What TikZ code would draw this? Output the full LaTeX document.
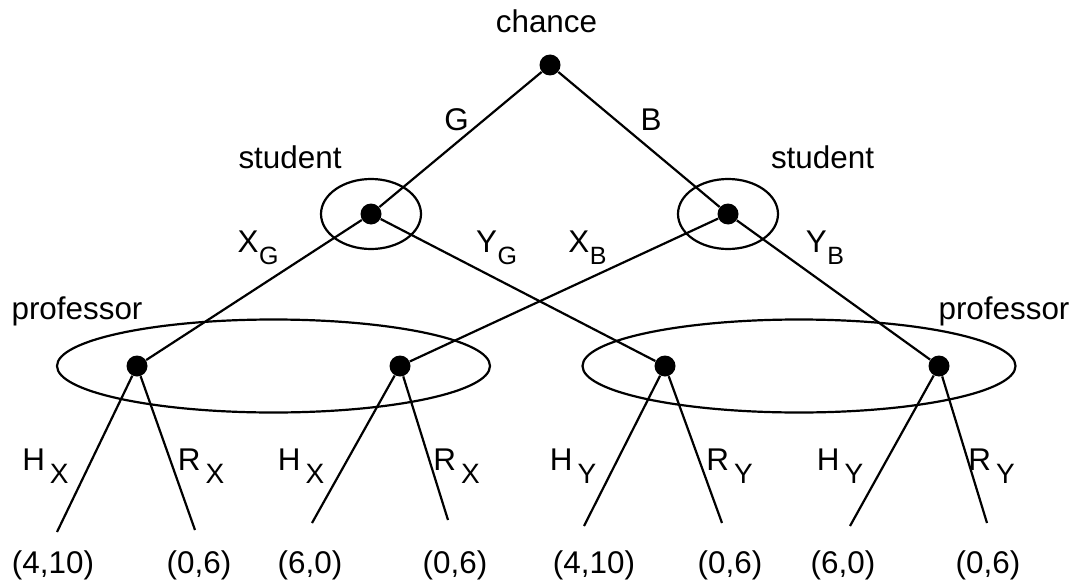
\documentclass[tikz,border=0pt]{standalone}
\usepackage{fontspec}
\setmainfont{Liberation Sans}
\usetikzlibrary{shapes.geometric}
\tikzset{
  every node/.style={font=\fontsize{15.7}{18}\selectfont, inner sep=0pt},
  dot/.style={circle, fill=black, minimum size=10.5pt, inner sep=0pt},
  info/.style={ellipse, draw, line width=1.1pt, inner sep=0pt},
  lbl/.style={anchor=base},
  edge/.style={line width=1.1pt},
}
\newcommand{\xsub}[2]{#1\kern0.3pt\raisebox{-6pt}{\fontsize{12.5}{12.5}\selectfont #2}}
\newcommand{\hsub}[2]{#1\kern2.5pt\raisebox{-6.5pt}{\fontsize{14}{14}\selectfont #2}}

\begin{document}
\begin{tikzpicture}[x=0.5pt, y=-0.5pt]
\useasboundingbox (0,0) rectangle (1080,583);

% decision nodes
\node[dot] (root) at (550,65) {};
\node[dot] (studG) at (371,214) {};
\node[dot] (studB) at (728,214) {};
\node[dot] (pGX) at (137,366) {};
\node[dot] (pBX) at (400,366) {};
\node[dot] (pGY) at (665,366) {};
\node[dot] (pBY) at (939,366) {};

% information sets
\node[info, minimum width=50pt, minimum height=35pt] (infoG) at (studG) {};
\node[info, minimum width=50pt, minimum height=35pt] (infoB) at (studB) {};
\node[info, minimum width=216.5pt, minimum height=46.5pt] (infoX) at (273.5,366) {};
\node[info, minimum width=216.5pt, minimum height=46.5pt] (infoY) at (799,366) {};

% moves
\draw[edge] (root) -- (studG);
\draw[edge] (root) -- (studB);
\draw[edge] (studG) -- (pGX);
\draw[edge] (studG) -- (pGY);
\draw[edge] (studB) -- (pBX);
\draw[edge] (studB) -- (pBY);

% terminal moves and payoffs
\foreach \i/\lx/\ly/\pn/\px/\pay in {1/57/532/pGX/53/{(4,10)}, 2/195/530/pGX/199/{(0,6)},
    3/312/523/pBX/310/{(6,0)}, 4/448/520/pBX/455/{(0,6)}, 5/584/526/pGY/594/{(4,10)},
    6/722/523/pGY/730/{(0,6)}, 7/850/526/pBY/843/{(6,0)}, 8/987/523/pBY/988/{(0,6)}} {
  \coordinate (leaf\i) at (\lx,\ly);
  \draw[edge] (\pn) -- (leaf\i);
  \node[lbl] (pay\i) at (\px,573) {\pay};
}

% player names
\node[lbl] (chance) at (546.5,33) {chance};
\node[lbl] (playG) at (290,168) {student};
\node[lbl] (playB) at (822.5,168) {student};
\node[lbl] (playX) at (77,319) {professor};
\node[lbl] (playY) at (1004,319) {professor};

% move labels
\node[lbl] (mG) at (456.5,130) {G};
\node[lbl] (mB) at (651,130) {B};
\node[lbl] (mXG) at (258,252) {\xsub{X}{G}};
\node[lbl] (mYG) at (496.5,252) {\xsub{Y}{G}};
\node[lbl] (mXB) at (587.5,252) {\xsub{X}{B}};
\node[lbl] (mYB) at (825,252) {\xsub{Y}{B}};
\node[lbl] (mH1) at (45.5,470) {\hsub{H}{X}};
\node[lbl] (mR1) at (201,470) {\hsub{R}{X}};
\node[lbl] (mH2) at (301,470) {\hsub{H}{X}};
\node[lbl] (mR2) at (456.5,470) {\hsub{R}{X}};
\node[lbl] (mH3) at (573,470) {\hsub{H}{Y}};
\node[lbl] (mR3) at (729.5,470) {\hsub{R}{Y}};
\node[lbl] (mH4) at (840,470) {\hsub{H}{Y}};
\node[lbl] (mR4) at (991.5,470) {\hsub{R}{Y}};

\end{tikzpicture}
\end{document}
